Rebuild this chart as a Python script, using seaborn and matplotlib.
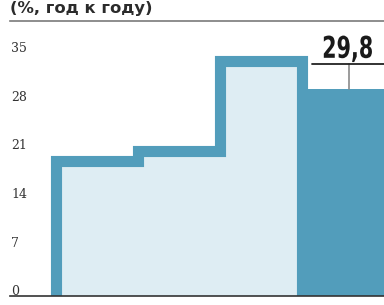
import matplotlib
matplotlib.use('Agg')
import matplotlib.pyplot as plt
import matplotlib.transforms as mtransforms
from matplotlib.textpath import TextPath
from matplotlib.font_manager import FontProperties
from matplotlib.patches import PathPatch
import seaborn as sns
import pandas as pd

# values
categories = ['1', '2', '3', '4']
values = [19.4, 20.95, 33.8, 29.8]
bar_colors = ['#deedf3', '#deedf3', '#deedf3', '#529dbb']
yticks = [0, 7, 14, 21, 28, 35]
title = '(%, год к году)'
last_label = '29,8'

line_blue = '#529dbb'

sns.set_style('white')
plt.rcParams['font.family'] = ['DejaVu Sans']

df = pd.DataFrame({'cat': categories, 'val': values})

fig = plt.figure(figsize=(3.84, 3.05), dpi=100)
ax = fig.add_axes([10 / 384, 9 / 305, 374 / 384, 275 / 305])

sns.barplot(data=df, x='cat', y='val', hue='cat', palette=bar_colors,
            width=1.0, legend=False, ax=ax, linewidth=0, saturation=1)

# thick step outline around the first three bars
xs, ys = [-0.5], [0]
for i, v in enumerate(values[:3]):
    xs += [i - 0.5, i + 0.5]
    ys += [v, v]
xs.append(2.5)
ys.append(0)
ax.plot(xs, ys, color=line_blue, lw=8, solid_joinstyle='miter',
        solid_capstyle='butt')

ax.set_xlim(-1.055, 3.5)
ax.set_ylim(0, 39.6)
ax.set_xticks([])
ax.set_yticks([])
ax.set_xlabel('')
ax.set_ylabel('')

for s in ['left', 'right']:
    ax.spines[s].set_visible(False)
ax.spines['top'].set_color('#7a7a7a')
ax.spines['top'].set_linewidth(1.2)
ax.spines['bottom'].set_color('#333333')
ax.spines['bottom'].set_linewidth(1.2)

# tick labels sit just above their value lines
trans = mtransforms.blended_transform_factory(ax.transAxes, ax.transData)
for t in yticks:
    ax.text(0.003, t + 0.1, str(t), transform=trans, ha='left',
            va='baseline', fontsize=9, family='DejaVu Serif', color='#333333')

# callout for the last bar
v4 = values[3]
ax.plot([3.07, 3.07], [v4, v4 + 3.6], color='#8a8a8a', lw=1.2)
ax.plot([2.62, 3.5], [v4 + 3.6, v4 + 3.6], color='#222222', lw=1.3)

# condensed bold number: squeeze a text path horizontally
tp = TextPath((0, 0), last_label, size=30,
              prop=FontProperties(family='DejaVu Sans', weight='bold'))
ext = tp.get_extents()
squeeze = mtransforms.Affine2D().translate(-(ext.x0 + ext.x1) / 2, 0).scale(0.69, 1)
anchor = mtransforms.ScaledTranslation(3.06, v4 + 4.5, ax.transData)
ax.add_patch(PathPatch(tp, transform=squeeze + anchor, facecolor='#1a1a1a',
                       edgecolor='none', clip_on=False))

fig.text(10 / 384, 1 - 13 / 305, title, ha='left', va='baseline',
         fontsize=11.8, fontweight='bold', color='#2b2b2b')

fig.savefig('out.png', dpi=100)
